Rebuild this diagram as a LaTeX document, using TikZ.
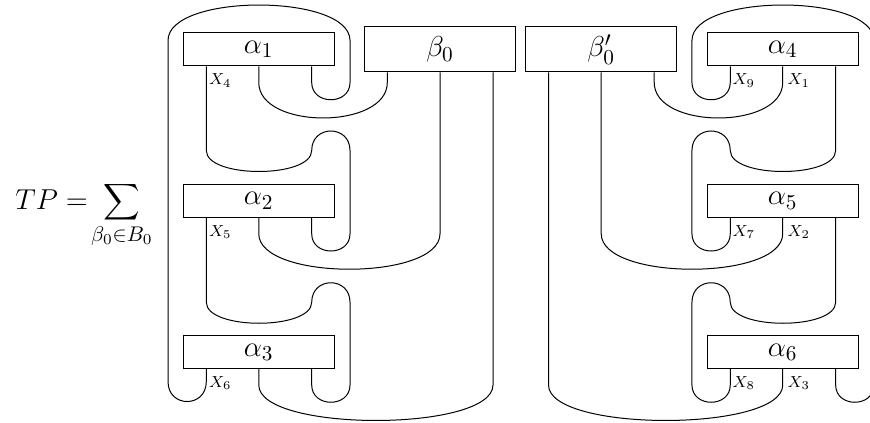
\documentclass[tikz,border=0pt]{standalone}
\usepackage{fix-cm}
\usepackage{exscale}
\usepackage{graphicx}
\DeclareMathSizes{14.4}{14.4}{10.6}{7.6}
\usetikzlibrary{calc}
\tikzset{
  box/.style={draw,line width=0.5pt,inner sep=0pt,font=\fontsize{14.4}{17}\selectfont},
  wire/.style={draw,line width=0.5pt},
  lab/.style={anchor=west,inner sep=0pt,font=\fontsize{8}{10}\selectfont},
  formula/.style={inner sep=0pt,anchor=base east,font=\fontsize{14.4}{17}\selectfont}
}
\begin{document}
\begin{tikzpicture}[x=0.5pt,y=-0.5pt]
\useasboundingbox (0,0) rectangle (870,422);
\clip (0,0) rectangle (870,422);
% formula
\node[formula] (tp) at (153,209) {$\displaystyle TP=\mkern-3mu\mathop{\vcenter{\hbox{\scalebox{0.88}{$\displaystyle\sum$}}}}_{\beta_0\in B_0}$};
% boxes
\foreach \n/\cx/\cy/\t in {a1/258.75/49.5/\alpha_1,a2/258.75/200.75/\alpha_2,a3/258.75/352/\alpha_3,
                           a4/782.7/49.5/\alpha_4,a5/782.7/200.75/\alpha_5,a6/782.7/352/\alpha_6}{
  \node[box,minimum width=75.5pt,minimum height=16.5pt] (\n) at (\cx,\cy) {$\t$};
  \coordinate (\n p1) at ($(\n.south)+(-52.45,0)$);
  \coordinate (\n p2) at ($(\n.south)+(0,0)$);
  \coordinate (\n p3) at ($(\n.south)+(52.95,0)$);
}
\node[box,minimum width=75.5pt,minimum height=22.5pt] (b0) at (440,49.5) {$\beta_0$};
\node[box,minimum width=75.5pt,minimum height=22.5pt] (b1) at (601.2,49.5) {$\beta'_0$};
\foreach \n in {b0,b1}{
  \coordinate (\n p1) at ($(\n.south)+(-52.7,0)$);
  \coordinate (\n p2) at ($(\n.south)+(0,0)$);
  \coordinate (\n p3) at ($(\n.south)+(53,0)$);
}
% left outer strand
\draw[wire] (a1p3) -- ++(0,16) .. controls +(0,23) and +(0,23) .. ++(38.3,0)
  -- ++(0,-42) .. controls +(0,-47.3) and +(0,-47.3) .. ++(-182,0)
  -- ++(0,341) .. controls +(0,26.7) and +(0,26.7) .. ++(38.3,0) -- (a3p1);
% right outer strands (leave the picture at its right edge)
\draw[wire] (a4p1) -- ++(0,16) .. controls +(0,23) and +(0,23) .. ++(-38.3,0)
  -- ++(0,-42) .. controls +(0,-47.3) and +(0,-47.3) .. ++(182,0);
\draw[wire] (a6p3) -- ++(0,16) .. controls +(0,23) and +(0,23) .. ++(38.3,0);
% left S-links
\foreach \s/\e/\d in {a1p1/a2p3/84,a2p1/a3p3/84.5}{
  \draw[wire] (\s) -- ++(0,\d) .. controls +(0,28) and +(0,28) .. ++(105.4,0)
    .. controls +(0,-26) and +(0,-26) .. ++(38.3,0)
    -- ($(\e)+(38.3,16)$) .. controls +(0,23) and +(0,23) .. ($(\e)+(0,16)$) -- (\e);
}
% right S-links
\foreach \s/\e/\d in {a4p3/a5p1/84,a5p3/a6p1/84.5}{
  \draw[wire] (\s) -- ++(0,\d) .. controls +(0,28) and +(0,28) .. ++(-105.4,0)
    .. controls +(0,-26) and +(0,-26) .. ++(-38.3,0)
    -- ($(\e)+(-38.3,16)$) .. controls +(0,23) and +(0,23) .. ($(\e)+(0,16)$) -- (\e);
}
% wide cups between alphas and betas
\foreach \s/\e in {a1p2/b0p1,a2p2/b0p2,a3p2/b0p3,a4p2/b1p3,a5p2/b1p2,a6p2/b1p1}{
  \draw[wire] (\s) -- ++(0,16) .. controls +(0,47.3) and +(0,47.3) .. ($(\e |- \s)+(0,16)$) -- (\e);
}
% strand labels
\foreach \n/\p/\dx/\t in {l4/a1p1/2.5/X_4,l5/a2p1/2.5/X_5,l6/a3p1/2.5/X_6,
                          l9/a4p1/2/X_9,l1/a4p2/4.5/X_1,l7/a5p1/2/X_7,l2/a5p2/4.5/X_2,l8/a6p1/2/X_8,l3/a6p2/4.5/X_3}{
  \node[lab] (\n) at ($(\p)+(\dx,14)$) {$\t$};
}
\end{tikzpicture}
\end{document}
